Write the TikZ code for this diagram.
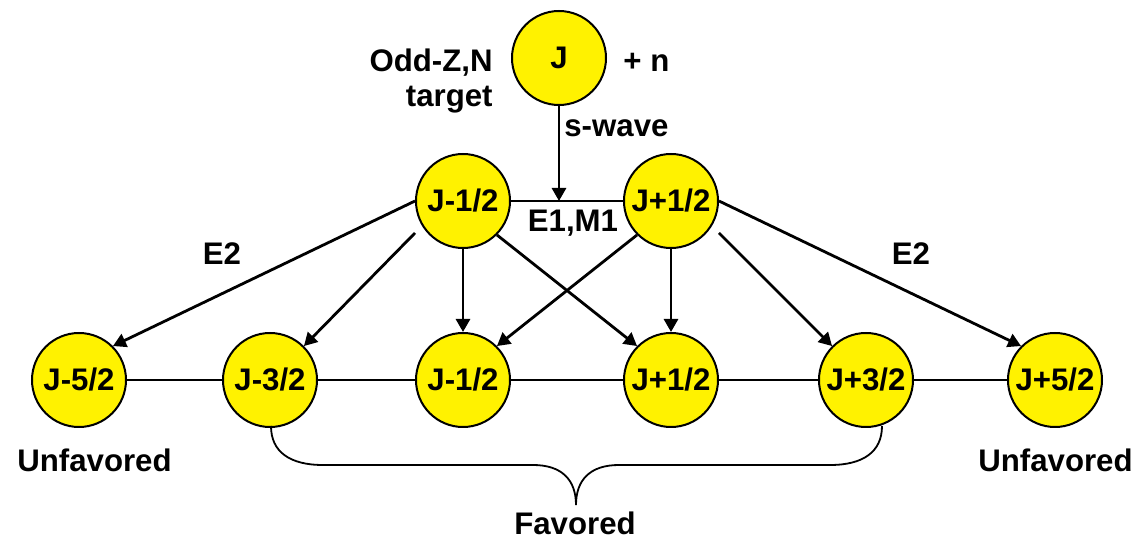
\documentclass[tikz,border=0pt]{standalone}
\usepackage{fontspec}
\setmainfont{Liberation Sans}
\usetikzlibrary{arrows.meta}
\begin{document}
\begin{tikzpicture}[x=0.5pt,y=-0.5pt,
  font=\fontsize{15.6}{18}\selectfont\bfseries,
  state/.style={circle,draw=black,fill=yellow,line width=1pt,minimum size=47pt,inner sep=0pt},
  lbl/.style={inner sep=0pt,anchor=base},
  conn/.style={line width=1.4pt},
  arr/.style={line width=1.4pt,-{Triangle[length=6.5pt,width=7pt]}},
  bracestyle/.style={line width=0.9pt}]
\useasboundingbox (0,0) rectangle (1148,539);
% nodes
\node[state] (J) at (559,58) {J};
\node[state] (tm) at (463,201) {J-1/2};
\node[state] (tp) at (671,201) {J+1/2};
\node[state] (b1) at (79,380) {J-5/2};
\node[state] (b2) at (270,380) {J-3/2};
\node[state] (b3) at (463,380) {J-1/2};
\node[state] (b4) at (671,380) {J+1/2};
\node[state] (b5) at (866,380) {J+3/2};
\node[state] (b6) at (1055,380) {J+5/2};
% labels
\node[lbl,anchor=base east] (oddz) at (493,72) {Odd-Z,N};
\node[lbl,anchor=base east] (target) at (493,107) {target};
\node[lbl,anchor=base west] (plusn) at (623,72) {+ n};
\node[lbl,anchor=base west] (swave) at (564,137) {s-wave};
\node[lbl] (e1m1) at (573,232) {E1,M1};
\node[lbl] (e2l) at (222,265) {E2};
\node[lbl] (e2r) at (911,265) {E2};
\node[lbl] (unfl) at (94.5,472) {Unfavored};
\node[lbl] (unfr) at (1055.5,472) {Unfavored};
\node[lbl] (fav) at (575,535) {Favored};
% connectors
\draw[conn] (tm) -- (tp);
\draw[arr] (J.south) -- (J.south |- tm.center);
\draw[conn] (b1) -- (b2) -- (b3) -- (b4) -- (b5) -- (b6);
\draw[arr] (tm.west) -- (b1.north east);
\draw[arr] ([yshift=-16pt]tm.west) -- (b2.north east);
\draw[arr] (tm.south) -- (b3.north);
\draw[arr] (tm.south east) -- (b4.north west);
\draw[arr] (tp.south west) -- (b3.north east);
\draw[arr] (tp.south) -- (b4.north);
\draw[arr] ([yshift=-16pt]tp.east) -- (b5.north west);
\draw[arr] (tp.east) -- (b6.north west);
% brace
\coordinate (brL) at (271,426);
\coordinate (brR) at (882,426);
\coordinate (brT) at (576,505);
\draw[bracestyle] (brL) .. controls (271,452) and (290,465) .. (323,465)
  -- (533,465) .. controls (562,465) and (576,480) .. (brT)
  .. controls (576,480) and (590,465) .. (619,465)
  -- (830,465) .. controls (863,465) and (882,452) .. (brR);
\end{tikzpicture}
\end{document}
